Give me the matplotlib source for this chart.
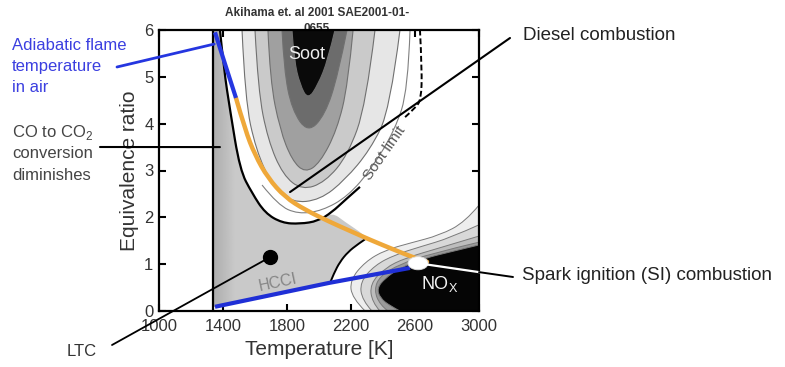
import matplotlib
matplotlib.use('Agg')
import matplotlib.pyplot as plt
from matplotlib.patches import PathPatch, Ellipse
from matplotlib.path import Path
from matplotlib.colors import to_rgb
import numpy as np

plt.rcParams['font.family'] = ['Liberation Sans', 'DejaVu Sans']

# ---------------- data (Temperature [K], equivalence ratio) ----------------
x_ticks = [1000, 1400, 1800, 2200, 2600, 3000]
y_ticks = [0, 1, 2, 3, 4, 5, 6]

# soot contour bands (outer -> inner)
sootA_T = [1519, 1538, 1606, 1706, 1831, 2006, 2163, 2319, 2444, 2506]
sootA_phi = [6.0, 4.51, 3.44, 2.69, 2.31, 2.37, 2.80, 3.44, 4.29, 6.0]
sootB_T = [1600, 1619, 1681, 1775, 1894, 2038, 2181, 2294, 2350]
sootB_phi = [6.0, 4.72, 3.65, 2.90, 2.58, 2.75, 3.33, 4.40, 6.0]
sootC_T = [1681, 1694, 1756, 1831, 1913, 2006, 2113, 2181, 2213]
sootC_phi = [6.0, 4.93, 3.87, 3.22, 2.95, 3.16, 3.87, 4.83, 6.0]
sootD_T = [1769, 1781, 1831, 1931, 2038, 2119, 2175]
sootD_phi = [6.0, 5.15, 4.29, 3.80, 4.19, 5.04, 6.0]
sootE_T = [1831, 1844, 1881, 1931, 1994, 2056, 2100]
sootE_phi = [6.0, 5.36, 4.83, 4.51, 4.83, 5.36, 6.0]
soot_extra_T = [1644, 1744, 1869, 2019, 2181, 2331, 2475, 2556, 2569]
soot_extra_phi = [2.69, 2.26, 2.07, 2.14, 2.45, 3.05, 3.87, 4.72, 6.0]

# outer black boundary (U curve) and dashed soot limit
ucurve_T = [1381, 1406, 1444, 1506, 1581, 1663, 1769, 1881, 1994, 2081, 2163, 2256]
ucurve_phi = [6.0, 5.15, 4.29, 3.01, 2.52, 2.09, 1.88, 1.86, 1.92, 2.11, 2.37, 2.65]
dashed_T = [2538, 2600, 2638, 2644, 2631]
dashed_phi = [4.14, 4.33, 4.51, 5.15, 6.0]

# grey low-temperature region and HCCI boundary
gray_T = [1338, 1381, 1406, 1444, 1506, 1581, 1663, 1769, 1881, 1994, 2081,
          2163, 2256, 2300, 2244, 2181, 2131, 2094, 2069, 1338]
gray_phi = [6.0, 6.0, 5.15, 4.29, 3.01, 2.52, 2.09, 1.88, 1.86, 1.92, 2.11,
            1.90, 1.69, 1.56, 1.43, 1.26, 1.05, 0.81, 0.60, 0.08]
hcci_T = [2300, 2244, 2181, 2131, 2094, 2069]
hcci_phi = [1.56, 1.43, 1.26, 1.05, 0.81, 0.60]
left_edge_T = 1338

# NOx contour bands (outer -> inner)
nox1_T = [3000, 2913, 2756, 2569, 2413, 2288, 2194, 2206, 2288, 3000]
nox1_phi = [2.26, 1.90, 1.62, 1.45, 1.30, 1.05, 0.66, 0.28, 0.0, 0.0]
nox2_T = [3000, 2819, 2631, 2475, 2350, 2256, 2269, 2331, 3000]
nox2_phi = [1.84, 1.56, 1.37, 1.20, 0.98, 0.62, 0.23, 0.0, 0.0]
nox3_T = [3000, 2756, 2538, 2413, 2319, 2331, 2381, 3000]
nox3_phi = [1.60, 1.35, 1.13, 0.92, 0.58, 0.19, 0.0, 0.0]
nox4_T = [3000, 2694, 2506, 2381, 2344, 2381, 2431, 3000]
nox4_phi = [1.47, 1.22, 1.00, 0.75, 0.45, 0.13, 0.0, 0.0]
nox5_T = [3000, 2819, 2663, 2506, 2413, 2363, 2381, 2444, 2506, 3000]
nox5_phi = [1.41, 1.26, 1.13, 0.92, 0.70, 0.49, 0.28, 0.11, 0.0, 0.0]

# combustion paths
diesel_T = [1481, 1538, 1600, 1681, 1788, 1913, 2069, 2194, 2319, 2475, 2600, 2675]
diesel_phi = [4.55, 3.87, 3.33, 2.84, 2.43, 2.16, 1.90, 1.71, 1.52, 1.30, 1.13, 1.05]
adiab_hi_T = [1350, 1415, 1481]
adiab_hi_phi = [5.95, 5.25, 4.55]
adiab_lo_T = [1350, 2063, 2569]
adiab_lo_phi = [0.09, 0.60, 0.92]

si_point = (2619, 1.02)
ltc_point = (1694, 1.15)
diesel_anchor = (1819, 2.54)

# ---------------- figure ----------------
W, H = 785, 367
fig = plt.figure(figsize=(W / 100, H / 100), dpi=100)
ax = fig.add_axes([159 / W, 56 / H, 320 / W, 281 / H])


def smooth_codes(pts):
    """Quadratic-Bezier path through midpoints, endpoints kept."""
    verts = [pts[0]]
    codes = [Path.MOVETO]
    n = len(pts)
    if n == 2:
        verts.append(pts[1]); codes.append(Path.LINETO)
        return verts, codes
    for i in range(1, n - 1):
        ctrl = pts[i]
        if i < n - 2:
            end = ((pts[i][0] + pts[i + 1][0]) / 2, (pts[i][1] + pts[i + 1][1]) / 2)
        else:
            end = pts[n - 1]
        verts += [ctrl, end]
        codes += [Path.CURVE3, Path.CURVE3]
    return verts, codes


def smooth_shape(T, phi, head=0, tail=0, closed=True):
    pts = list(zip(T, phi))
    headpts = pts[:head]
    body = pts[head:len(pts) - tail]
    tailpts = pts[len(pts) - tail:]
    v, c = smooth_codes(body)
    if headpts:
        v = headpts + v
        c = [Path.MOVETO] + [Path.LINETO] * (len(headpts) - 1) + [Path.LINETO] + c[1:]
    for p in tailpts:
        v.append(p); c.append(Path.LINETO)
    if closed:
        v.append(v[0]); c.append(Path.CLOSEPOLY)
    return Path(v, c)


def shape(T, phi, fc, ec='none', lw=0.0, z=1, head=0, tail=0):
    p = PathPatch(smooth_shape(T, phi, head, tail), fc=fc, ec=ec, lw=lw, zorder=z)
    ax.add_patch(p)
    return p


def sline(T, phi, z=3, **kw):
    p = PathPatch(smooth_shape(T, phi, closed=False), fc='none', zorder=z, **kw)
    ax.add_patch(p)
    return p


# grey region with darker gradient near its left edge
gp = shape(gray_T, gray_phi, '#c9c9c9', z=1, head=1, tail=1)
grad = np.zeros((2, 256, 4))
grad[..., 0], grad[..., 1], grad[..., 2] = to_rgb('#8a8a8a')
grad[..., 3] = np.linspace(0.45, 0.0, 256)[None, :]
im = ax.imshow(grad, extent=(1338, 1470, 0, 6), aspect='auto', zorder=1.5,
               interpolation='bilinear')
im.set_clip_path(gp)

# soot bands
for T, phi, col in [(sootA_T, sootA_phi, '#e6e6e6'), (sootB_T, sootB_phi, '#cacaca'),
                    (sootC_T, sootC_phi, '#a0a0a0'), (sootD_T, sootD_phi, '#6c6c6c'),
                    (sootE_T, sootE_phi, '#0a0a0a')]:
    shape(T, phi, col, ec='#707070', lw=0.8, z=2)
sline(soot_extra_T, soot_extra_phi, z=2.1, ec='#808080', lw=0.8)

# NOx bands
for T, phi, col in [(nox1_T, nox1_phi, '#eeeeee'), (nox2_T, nox2_phi, '#d8d8d8'),
                    (nox3_T, nox3_phi, '#bdbdbd'), (nox4_T, nox4_phi, '#9a9a9a'),
                    (nox5_T, nox5_phi, '#050505')]:
    shape(T, phi, col, ec='#7a7a7a', lw=0.7, z=2, tail=1)

# black boundaries
sline(ucurve_T, ucurve_phi, z=3, ec='black', lw=1.6)
sline(dashed_T, dashed_phi, z=3, ec='black', lw=1.4, ls=(0, (3, 1.5)))
sline(hcci_T, hcci_phi, z=3, ec='black', lw=1.4)
ax.axvline(left_edge_T, color='black', lw=1.6, zorder=3)

# combustion paths
ax.plot(adiab_lo_T, adiab_lo_phi, color='#1f2fd6', lw=3, zorder=4, solid_capstyle='butt')
sline(diesel_T, diesel_phi, z=5, ec='#efa83a', lw=3.2, capstyle='round')
ax.plot(adiab_hi_T, adiab_hi_phi, color='#2536e0', lw=3, zorder=5, solid_capstyle='butt')

ax.add_patch(Ellipse(si_point, 125, 0.28, fc='white', ec='#dddddd', lw=0.6, zorder=6))
ax.plot([ltc_point[0]], [ltc_point[1]], 'o', color='black', ms=10, zorder=6)

# in-plot labels
ax.text(1925, 5.47, 'Soot', color='#eeeeee', fontsize=13, ha='center', va='center', zorder=7)
ax.text(2756, 0.58, r'NO$_\mathregular{X}$', color='#f2f2f2', fontsize=13,
        ha='center', va='center', zorder=7)
ax.text(1744, 0.60, 'HCCI', color='#858585', fontsize=11.5, ha='center', va='center',
        rotation=12, rotation_mode='anchor', zorder=7)
ax.text(2413, 3.38, 'Soot limit', color='#555555', fontsize=11, ha='center', va='center',
        rotation=55, rotation_mode='anchor', zorder=7)

ax.set_xlim(1000, 3000)
ax.set_ylim(0, 6)
ax.set_xticks(x_ticks)
ax.set_yticks(y_ticks)
ax.tick_params(direction='in', length=5, width=1.5, top=True, right=True,
               labelsize=12, labelcolor='#333333')
ax.tick_params(axis='x', pad=6)
ax.tick_params(axis='y', pad=4)
for s in ax.spines.values():
    s.set_linewidth(1.6)
ax.set_xlabel('Temperature [K]', fontsize=15, color='#333333', labelpad=4)
ax.set_ylabel('Equivalence ratio', fontsize=15, color='#333333', labelpad=4)

# ---------------- annotations outside ----------------
def fx(px):
    return px / W


def fy(py):
    return 1 - py / H


def leader(xy, pix, color='black', lw=1.4, z=8):
    ax.annotate('', xy=xy, xycoords='data', xytext=(pix[0], H - pix[1]),
                textcoords='figure pixels', annotation_clip=False,
                arrowprops=dict(arrowstyle='-', color=color, lw=lw,
                                shrinkA=0, shrinkB=0), zorder=z)


leader((1345, 5.70), (117, 67), color='#2536e0', lw=2)
leader((1381, 3.50), (100, 147), lw=1.5)
leader(diesel_anchor, (510, 38), lw=1.5)
leader(ltc_point, (112, 345), lw=1.3)
ax.plot([si_point[0], 3000], [si_point[1], 0.83], color='white', lw=1.6, zorder=6,
        clip_on=False)
leader((3000, 0.83), (513, 277), lw=1.4)

blue = '#3b3fe0'
fig.text(fx(12), fy(45), 'Adiabatic flame', color=blue, fontsize=12, va='center')
fig.text(fx(12), fy(66), 'temperature', color=blue, fontsize=12, va='center')
fig.text(fx(12), fy(87), 'in air', color=blue, fontsize=12, va='center')

grey = '#444444'
fig.text(fx(12), fy(133), r'CO to CO$_\mathregular{2}$', color=grey, fontsize=12, va='center')
fig.text(fx(12), fy(154), 'conversion', color=grey, fontsize=12, va='center')
fig.text(fx(12), fy(175), 'diminishes', color=grey, fontsize=12, va='center')

fig.text(fx(82), fy(351), 'LTC', color='#333333', fontsize=12, ha='center', va='center')
fig.text(fx(523), fy(35), 'Diesel combustion', color='#222222', fontsize=13.5, va='center')
fig.text(fx(522), fy(276), 'Spark ignition (SI) combustion', color='#222222',
         fontsize=13.5, va='center')

fig.text(fx(317), fy(13), 'Akihama et. al 2001 SAE2001-01-', color='#333333',
         fontsize=8.5, fontweight='bold', ha='center', va='center')
fig.text(fx(317), fy(29), '0655', color='#333333', fontsize=8.5, fontweight='bold',
         ha='center', va='center', zorder=-1)

fig.savefig('out.png', dpi=100)
